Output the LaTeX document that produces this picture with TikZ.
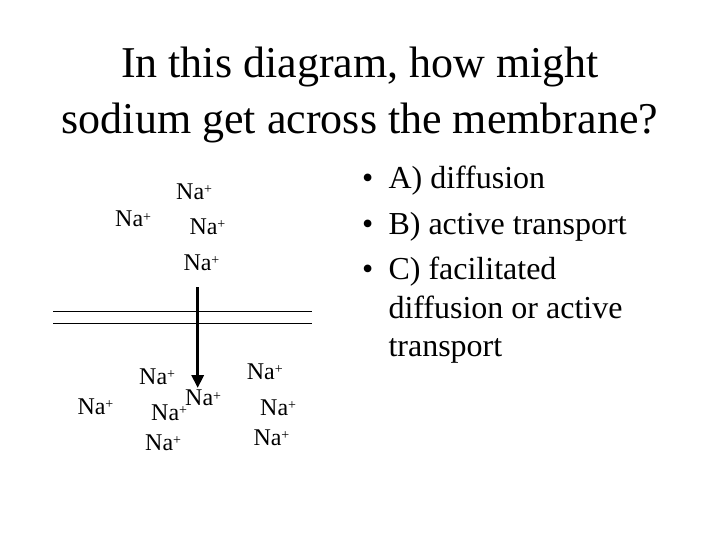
\documentclass[tikz,border=0pt]{standalone}
\usepackage{fontspec}
\setmainfont{Liberation Serif}
\usetikzlibrary{arrows.meta}
\newcommand{\naion}{Na\raisebox{5.5pt}{\fontsize{14}{14}\selectfont +}}
\begin{document}
\begin{tikzpicture}[x=1pt,y=-1pt,
  titletext/.style={inner sep=0pt,anchor=base,font=\fontsize{44}{53}\selectfont},
  itemtext/.style={inner sep=0pt,anchor=base west,font=\fontsize{32}{38}\selectfont},
  ion/.style={inner sep=0pt,anchor=base west,font=\fontsize{24}{28}\selectfont},
  membrane/.style={line width=1pt},
  flow/.style={line width=3.5pt,-{Triangle[width=12pt,length=13pt]}}]
\useasboundingbox (0,0) rectangle (719,539);
% title
\node[titletext] (t1) at (360,77.7) {In this diagram, how might};
\node[titletext] (t2) at (360,133.3) {sodium get across the membrane?};
% membrane
\coordinate (m1a) at (53,311.7);
\coordinate (m1b) at (312,311.7);
\coordinate (m2a) at (53,323.3);
\coordinate (m2b) at (312,323.3);
\draw[membrane] (m1a) -- (m1b);
\draw[membrane] (m2a) -- (m2b);
% arrow
\coordinate (arrs) at (197.7,287);
\coordinate (arre) at (197.7,388);
\draw[flow] (arrs) -- (arre);
% ions above
\node[ion] (na1) at (176,199) {\naion};
\node[ion] (na2) at (115,226.7) {\naion};
\node[ion] (na3) at (189.3,234.3) {\naion};
\node[ion] (na4) at (183.3,270) {\naion};
% ions below
\node[ion] (na5) at (139,384.3) {\naion};
\node[ion] (na6) at (246.7,379) {\naion};
\node[ion] (na7) at (77.3,414.3) {\naion};
\node[ion] (na8) at (151,420) {\naion};
\node[ion] (na9) at (185,405.7) {\naion};
\node[ion] (na10) at (260,415) {\naion};
\node[ion] (na11) at (145,450) {\naion};
\node[ion] (na12) at (253.3,445) {\naion};
% answers
\node[itemtext] (b1) at (362,188.3) {\textbullet};
\node[itemtext] (a1) at (388.3,188.3) {A) diffusion};
\node[itemtext] (b2) at (362,234) {\textbullet};
\node[itemtext] (a2) at (388.3,234) {B) active transport};
\node[itemtext] (b3) at (362,279.3) {\textbullet};
\node[itemtext] (a3) at (388.3,279.3) {C) facilitated};
\node[itemtext] (a4) at (388.3,318.3) {diffusion or active};
\node[itemtext] (a5) at (388.3,356.7) {transport};
\end{tikzpicture}
\end{document}
